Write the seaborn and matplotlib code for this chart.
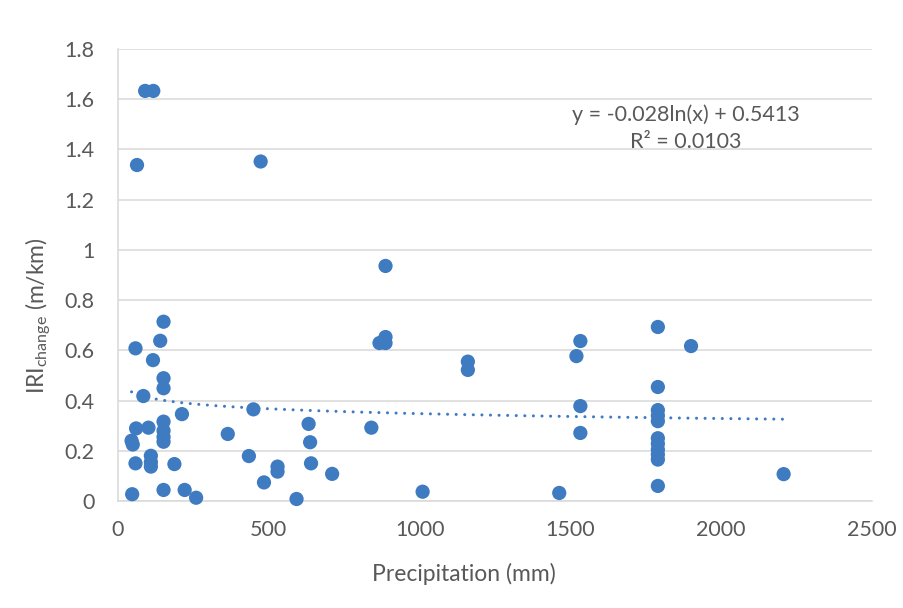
import numpy as np
import pandas as pd
import matplotlib
matplotlib.use("Agg")
import matplotlib.pyplot as plt
import seaborn as sns

# ---- data ----
precip = [90, 117, 63, 473, 887,
          887, 887, 867,
          1160, 1160,
          1533, 1520, 1533, 1533, 1463,
          1790, 1790, 1790, 1790, 1790, 1790, 1790, 1790, 1790, 1790, 1790,
          1900, 2207,
          151, 58, 140, 116, 151, 151, 84, 212,
          151, 151, 151, 151,
          60, 101, 45, 49, 58,
          109, 109, 109, 187,
          47, 151, 221, 259,
          364, 434, 449, 484, 529, 529, 592,
          632, 637, 640, 710, 840, 1010]
iri = [1.633, 1.633, 1.338, 1.352, 0.936,
       0.653, 0.629, 0.629,
       0.555, 0.522,
       0.637, 0.577, 0.378, 0.271, 0.032,
       0.693, 0.454, 0.362, 0.340, 0.318, 0.250, 0.228, 0.205, 0.185, 0.165, 0.060,
       0.617, 0.107,
       0.714, 0.608, 0.638, 0.561, 0.489, 0.449, 0.418, 0.346,
       0.316, 0.280, 0.255, 0.236,
       0.289, 0.292, 0.240, 0.225, 0.150,
       0.180, 0.155, 0.137, 0.147,
       0.027, 0.044, 0.044, 0.013,
       0.267, 0.179, 0.365, 0.074, 0.137, 0.117, 0.008,
       0.307, 0.234, 0.150, 0.108, 0.292, 0.037]

# displayed log trendline: y = a*ln(x) + b
trend_a = -0.028
trend_b = 0.5413
eq_text = "y = -0.028ln(x) + 0.5413"
r2_text = "R² = 0.0103"

x_ticks = [0, 500, 1000, 1500, 2000, 2500]
y_ticks = [0, 0.2, 0.4, 0.6, 0.8, 1.0, 1.2, 1.4, 1.6, 1.8]
y_tick_labels = ["0", "0.2", "0.4", "0.6", "0.8", "1", "1.2", "1.4", "1.6", "1.8"]

df = pd.DataFrame({"Precipitation": precip, "IRI": iri})

# ---- style ----
sns.set_style("white")
FONT = "Lato"
plt.rcParams["font.family"] = [FONT, "DejaVu Sans"]
plt.rcParams["mathtext.fontset"] = "custom"
plt.rcParams["mathtext.rm"] = FONT
plt.rcParams["mathtext.it"] = FONT
plt.rcParams["mathtext.bf"] = FONT

BLUE = "#3F7BC1"
GRID = "#D9D9D9"
TXT = "#595959"

fig = plt.figure(figsize=(9.04, 6.08), dpi=100)
ax = fig.add_axes([118 / 904, 1 - 501 / 608, (872 - 118) / 904, (501 - 49) / 608])

sns.scatterplot(data=df, x="Precipitation", y="IRI", ax=ax, color=BLUE,
                s=105, edgecolor="none", linewidth=0, zorder=3, clip_on=False)

xs = np.linspace(min(precip), max(precip), 400)
ax.plot(xs, trend_a * np.log(xs) + trend_b, color=BLUE, lw=2.2,
        linestyle=(0, (0.01, 2.8)), dash_capstyle="round", zorder=2)

ax.set_xlim(0, 2500)
ax.set_ylim(0, 1.8)
ax.set_xticks(x_ticks)
ax.set_xticklabels([str(t) for t in x_ticks])
ax.set_yticks(y_ticks)
ax.set_yticklabels(y_tick_labels)
ax.tick_params(axis="both", length=0, labelsize=15.5, colors=TXT)
ax.tick_params(axis="y", pad=17)
ax.tick_params(axis="x", pad=14)

ax.grid(axis="y", color=GRID, lw=1.1, zorder=0)
ax.grid(axis="x", visible=False)
for side in ["top", "right"]:
    ax.spines[side].set_visible(False)
for side in ["left", "bottom"]:
    ax.spines[side].set_color(GRID)
    ax.spines[side].set_linewidth(1.1)

ax.set_xlabel("Precipitation (mm)", fontsize=16.5, color=TXT)
ax.set_ylabel(r"IRI$_{\mathregular{change}}$ (m/km)", fontsize=16.5, color=TXT)
ax.xaxis.label.set_va("center")
ax.yaxis.label.set_va("center")
ax.xaxis.set_label_coords((464 - 118) / 754, (501 - 574) / 452)
ax.yaxis.set_label_coords((38 - 118) / 754, (501 - 316) / 452)

ax.text(1883, 1.537, eq_text, ha="center", va="center", fontsize=15.5, color=TXT)
ax.text(1883, 1.43, r2_text, ha="center", va="center", fontsize=15.5, color=TXT)

fig.savefig("out.png", dpi=100, facecolor="white")
